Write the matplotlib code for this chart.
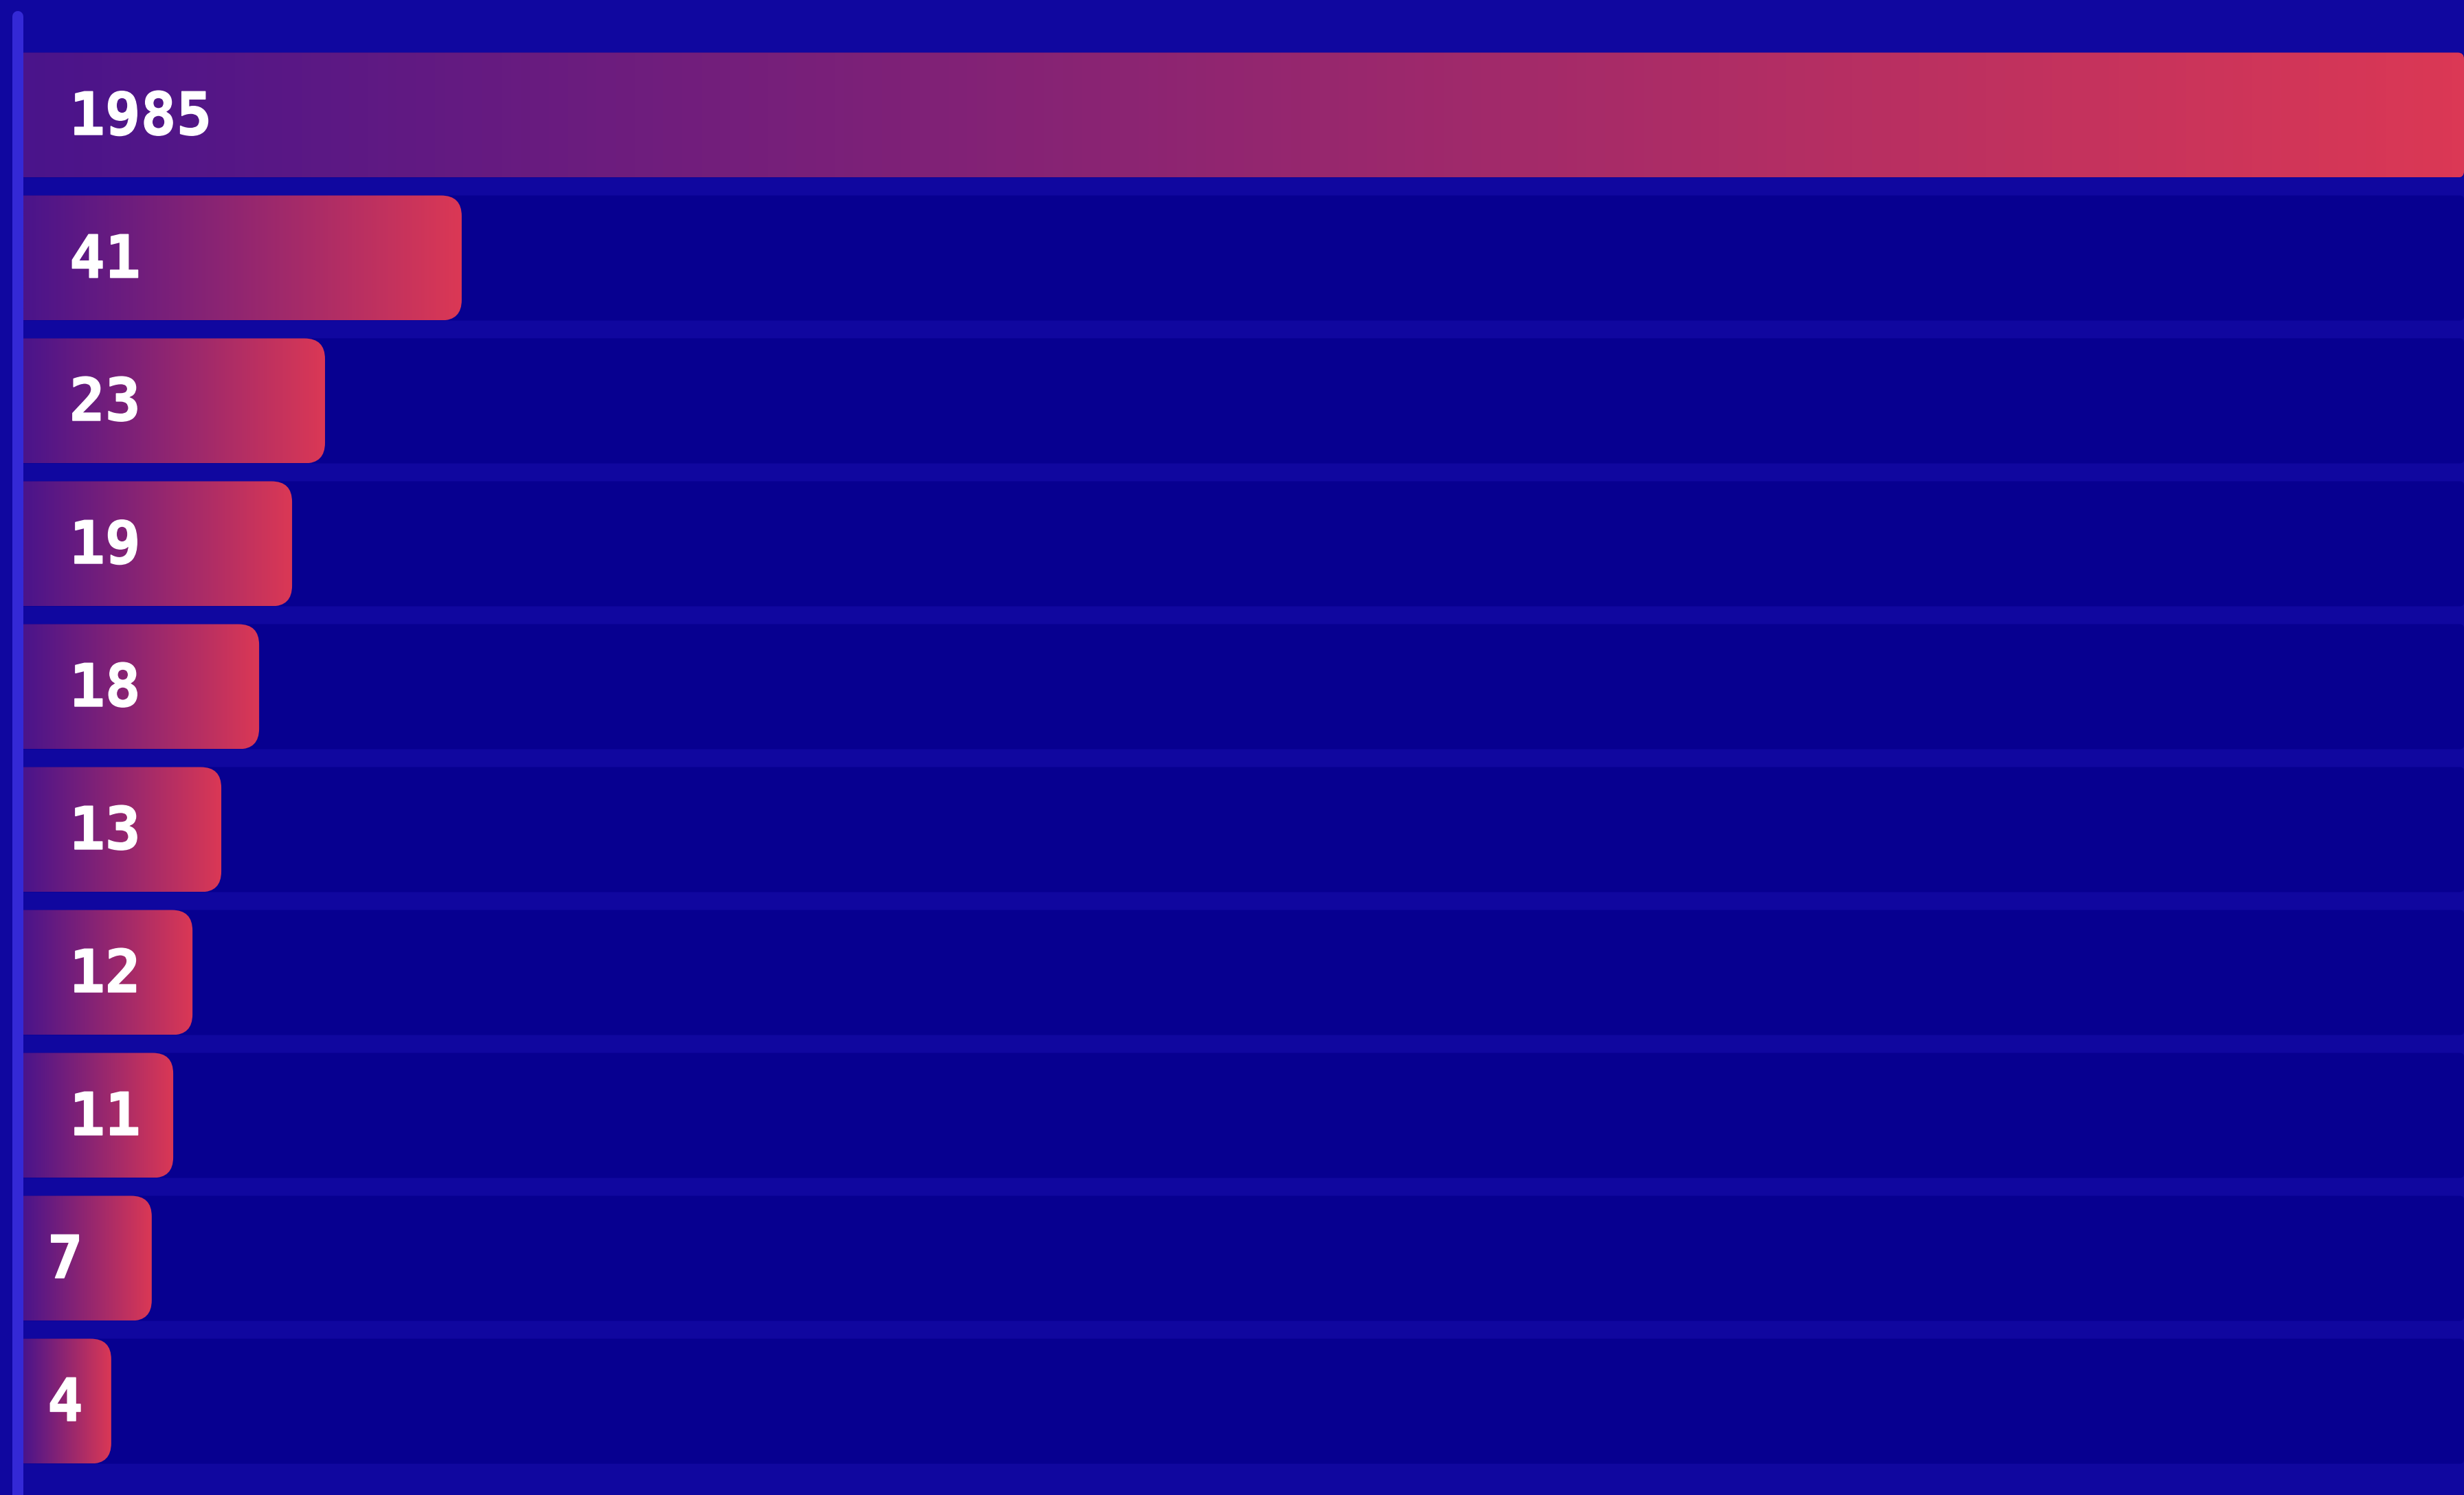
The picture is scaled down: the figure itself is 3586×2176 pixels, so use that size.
import numpy as np
import matplotlib
matplotlib.use("Agg")
import matplotlib.pyplot as plt
from matplotlib.patches import FancyBboxPatch
from matplotlib.lines import Line2D
from matplotlib.colors import LinearSegmentedColormap
import matplotlib.patheffects as pe

# ---- data ----
labels = ["1985", "41", "23", "19", "18", "13", "12", "11", "7", "4"]
# bar lengths, in percent of the longest bar
bar_length = [100.0, 17.96, 12.36, 11.01, 9.66, 8.11, 6.93, 6.14, 5.26, 3.60]

# ---- style ----
W, H, DPI = 3586, 2176, 100
BG = "#10079F"
TRACK = "#070090"
AXIS = "#3429D6"
grad = LinearSegmentedColormap.from_list("g", ["#4A148B", "#DB3855"])

fig = plt.figure(figsize=(W / DPI, H / DPI), dpi=DPI, facecolor=BG)
left_px = 34
ax = fig.add_axes([left_px / W, 0, (W - left_px) / W, 1])
ax.set_facecolor(BG)
for s in ax.spines.values():
    s.set_visible(False)
ax.set_xticks([])
ax.set_yticks([])

pitch = 208.0
first_center = 167.5
ax.set_xlim(0, 100)
ax.set_ylim((H - first_center) / pitch, -first_center / pitch)

bar_h = 182.0 / pitch
x_per_px = 100.0 / (W - left_px)
y_per_px = 1.0 / pitch
aspect = y_per_px / x_per_px

gradient = np.linspace(0, 1, 512).reshape(1, -1)
vmax = max(bar_length)

for i, (lab, v) in enumerate(zip(labels, bar_length)):
    y0 = i - bar_h / 2
    # track
    track = FancyBboxPatch((-5, y0), 105, bar_h,
                           boxstyle=f"round,pad=0,rounding_size={6 * x_per_px}",
                           mutation_aspect=aspect, facecolor=TRACK,
                           edgecolor="none", zorder=1)
    ax.add_patch(track)
    # bar with gradient
    r_px = 9 if v >= vmax else 30
    bar = FancyBboxPatch((-5, y0), v + 5, bar_h,
                         boxstyle=f"round,pad=0,rounding_size={r_px * x_per_px}",
                         mutation_aspect=aspect, facecolor="none",
                         edgecolor="none", zorder=2)
    ax.add_patch(bar)
    im = ax.imshow(gradient, cmap=grad, aspect="auto",
                   extent=[0, v, y0 + bar_h, y0], zorder=2,
                   interpolation="bilinear")
    im.set_clip_path(bar)
    # label
    off = 67 if len(lab) > 1 else 35
    ax.annotate(lab, xy=(0, i), xytext=(off, -5), textcoords="offset pixels",
                ha="left", va="center", color="white", fontsize=62,
                fontweight="bold", family=["DejaVu Sans Mono"], zorder=3,
                path_effects=[pe.withStroke(linewidth=1.0, foreground="white")])

ax.set_xlim(0, 100)
ax.set_ylim((H - first_center) / pitch, -first_center / pitch)

# left axis line with rounded top
lw_pt = 16 * 72 / DPI
line = Line2D([26 / W, 26 / W], [1 - 24 / H, -0.05], transform=fig.transFigure,
              color=AXIS, linewidth=lw_pt, solid_capstyle="round", zorder=5)
fig.add_artist(line)

fig.savefig("out.png", dpi=DPI, facecolor=BG)
